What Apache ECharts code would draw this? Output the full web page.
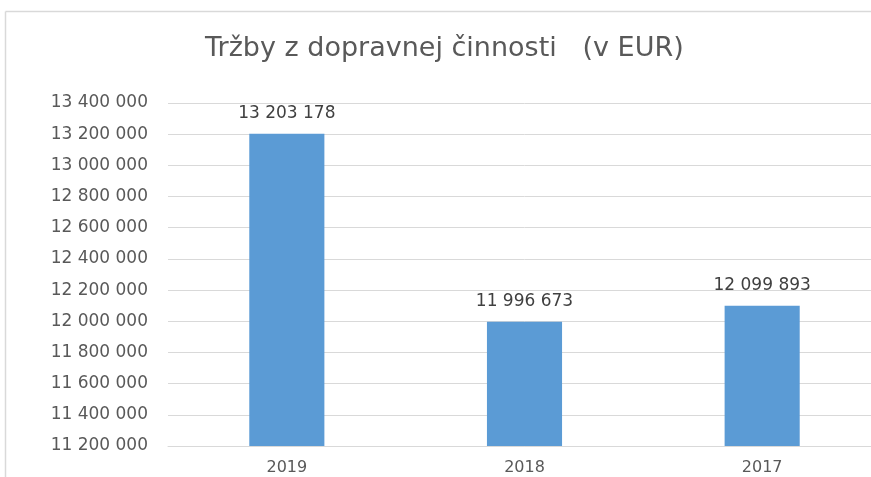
<!DOCTYPE html>
<html>
<head>
<meta charset="utf-8">
<script src="https://cdn.jsdelivr.net/npm/echarts@6/dist/echarts.min.js"></script>
<style>
  html, body { margin: 0; padding: 0; background: #fff; overflow: hidden; }
  #chart { width: 890px; height: 477px; }
</style>
</head>
<body>
<div id="chart"></div>
<script>
const years = ['2019', '2018', '2017'];
const revenue = [13203178, 11996673, 12099893];
const yMin = 11200000;
const yMax = 13400000;
const yStep = 200000;

const fmt = v => String(Math.round(v)).replace(/\B(?=(\d{3})+(?!\d))/g, ' ');
const font = 'DejaVu Sans';

// the reference is cropped on the right: the plot runs past the window edge
const chart = echarts.init(document.getElementById('chart'));
chart.setOption({
  backgroundColor: '#fff',
  animation: false,
  title: {
    text: 'Tržby z dopravnej činnosti   (v EUR)',
    left: 200,
    top: 30,
    textStyle: { fontFamily: font, fontSize: 27, fontWeight: 'normal', color: '#595959' }
  },
  graphic: [
    { type: 'line', shape: { x1: 5.5, y1: 11.5, x2: 890, y2: 11.5 }, style: { stroke: '#d9d9d9', lineWidth: 1.5 } },
    { type: 'line', shape: { x1: 5.5, y1: 11.5, x2: 5.5, y2: 477 }, style: { stroke: '#d9d9d9', lineWidth: 1.5 } }
  ],
  grid: { left: 168, top: 103, width: 713, bottom: 31, containLabel: false },
  xAxis: {
    type: 'category',
    data: years,
    axisLine: { lineStyle: { color: '#d9d9d9' } },
    axisTick: { show: false },
    axisLabel: { margin: 14, fontFamily: font, fontSize: 16, color: '#595959' }
  },
  yAxis: {
    type: 'value',
    min: yMin,
    max: yMax,
    interval: yStep,
    axisLine: { show: false },
    axisTick: { show: false },
    splitLine: { lineStyle: { color: '#d9d9d9' } },
    axisLabel: { margin: 20, fontFamily: font, fontSize: 17, color: '#595959', formatter: fmt }
  },
  series: [{
    type: 'bar',
    data: revenue,
    barWidth: '31.6%',
    itemStyle: { color: '#5b9bd5' },
    label: {
      show: true,
      position: 'top',
      distance: 12,
      fontFamily: font,
      fontSize: 17,
      color: '#404040',
      formatter: p => fmt(p.value)
    }
  }]
});
</script>
</body>
</html>
